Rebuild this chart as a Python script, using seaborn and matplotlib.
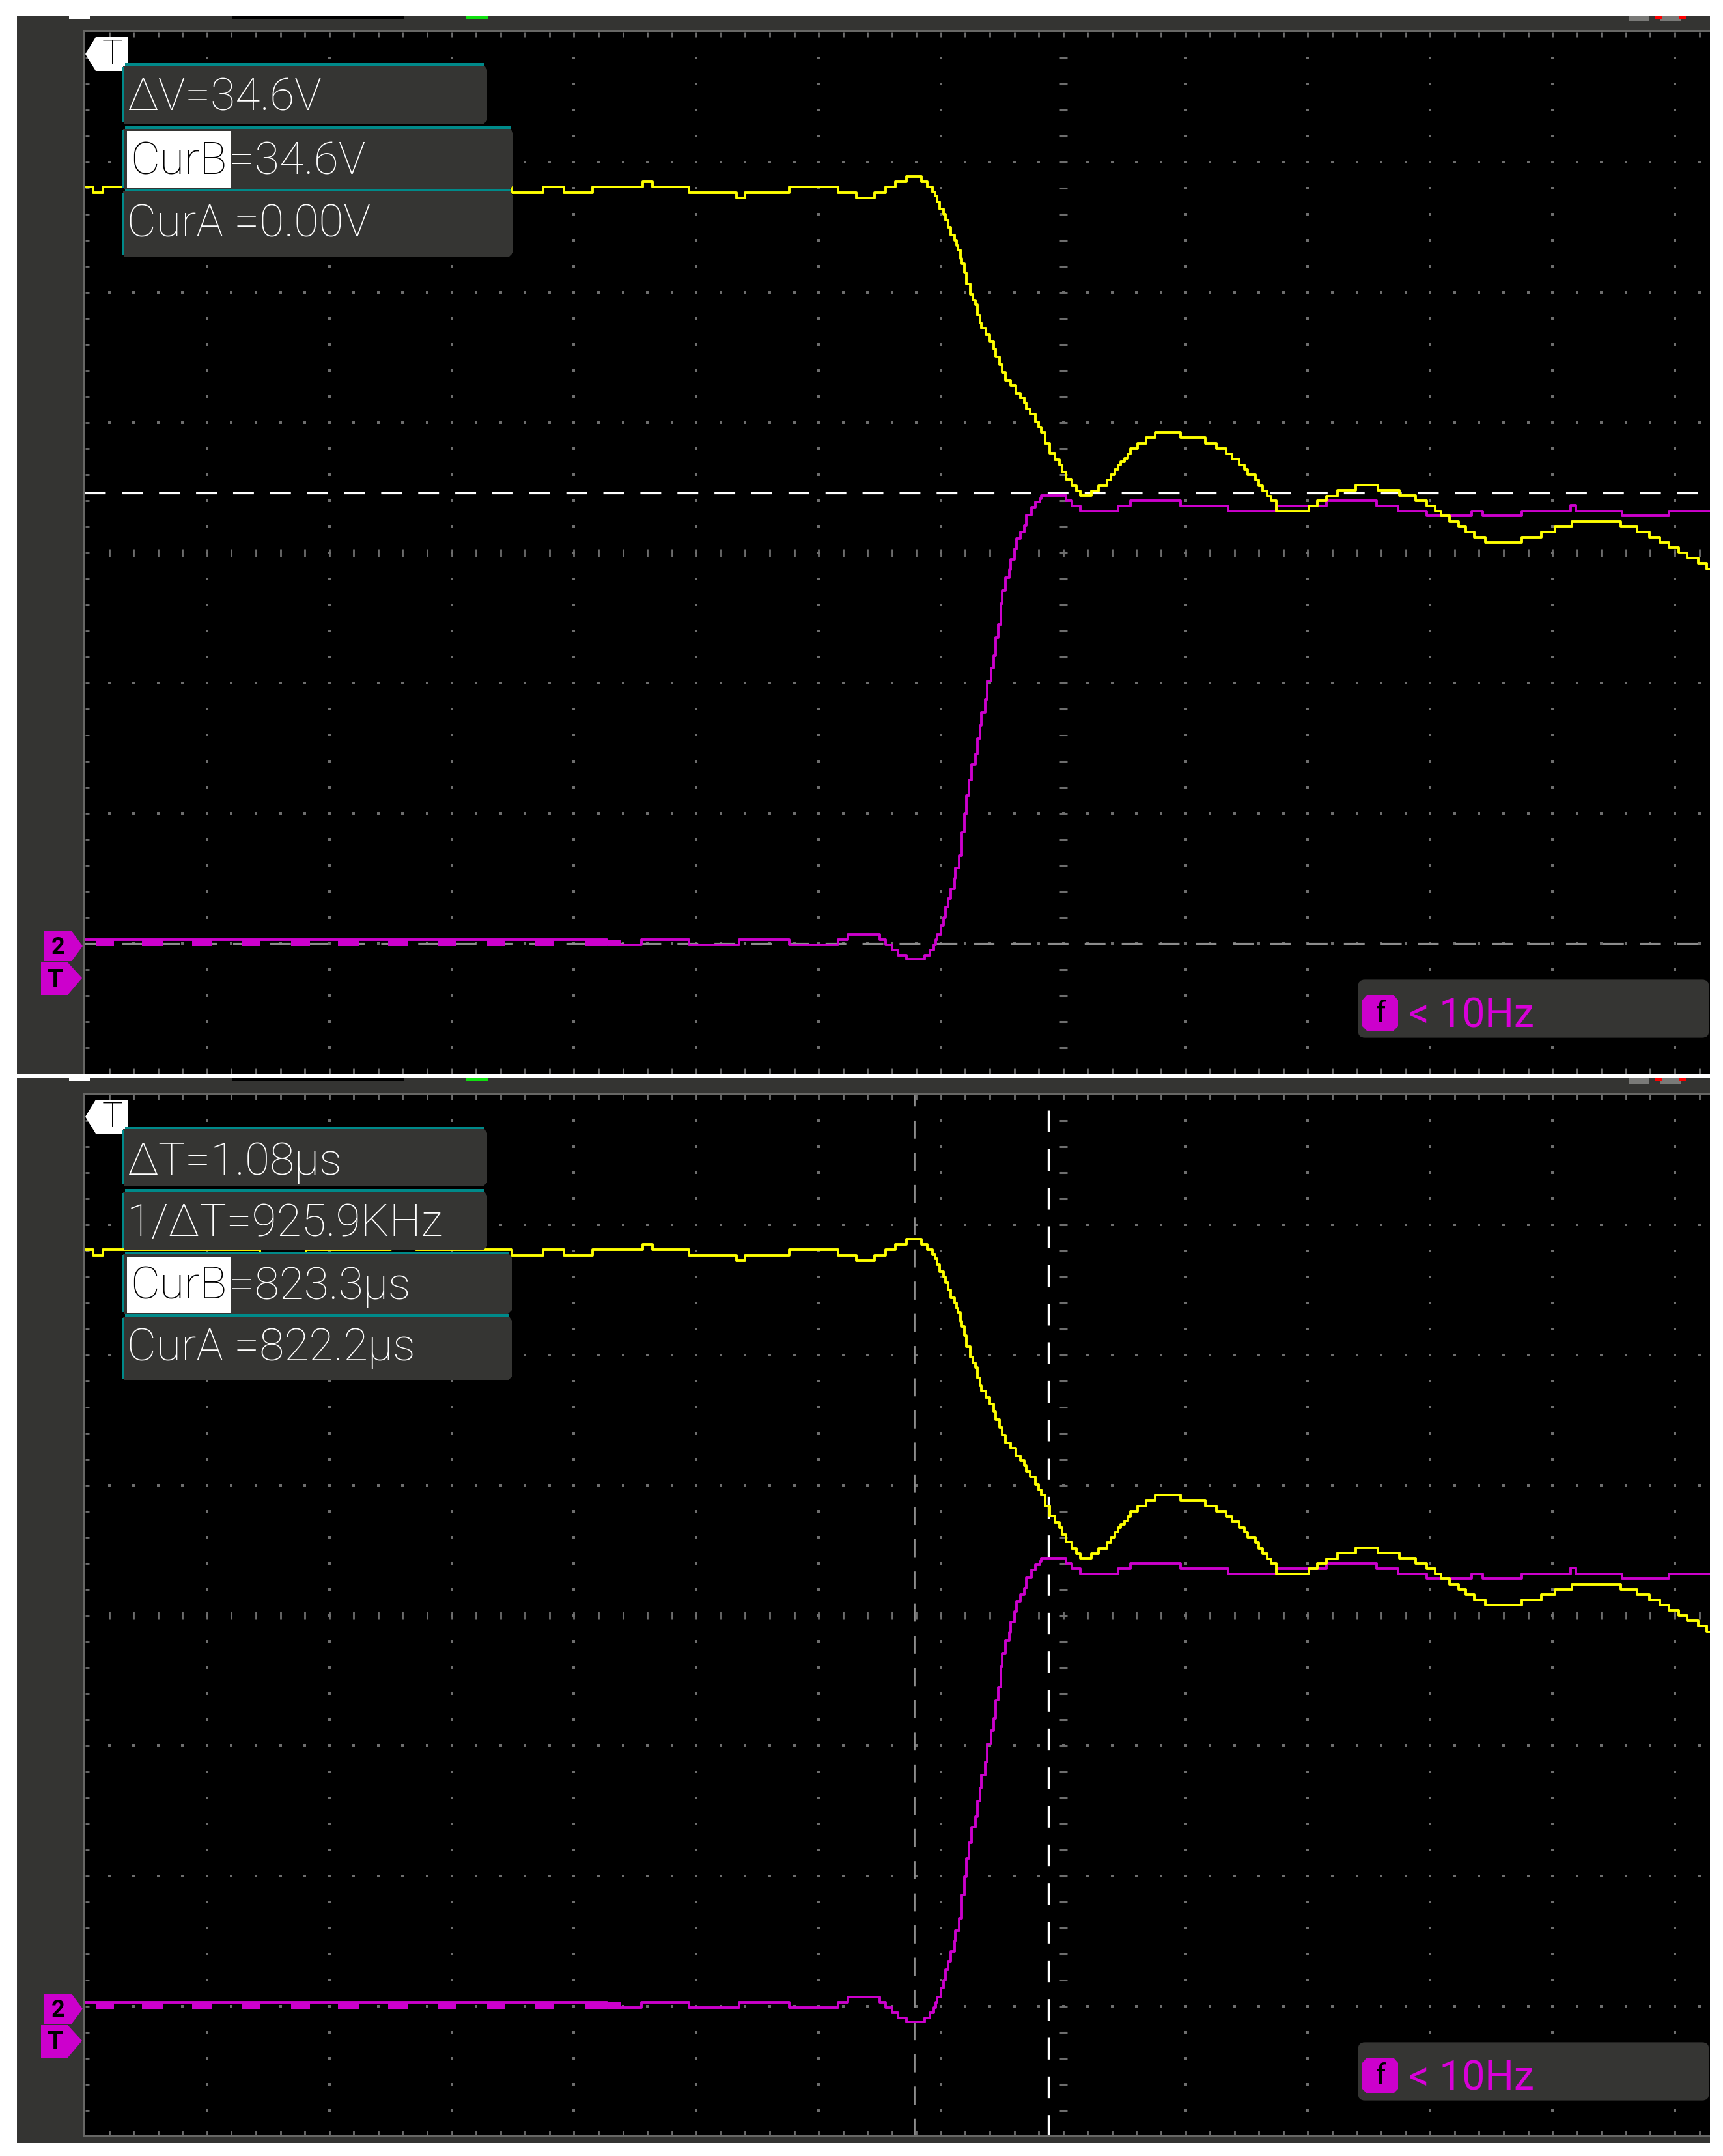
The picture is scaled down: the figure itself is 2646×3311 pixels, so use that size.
import numpy as np
import pandas as pd
import matplotlib
matplotlib.use("Agg")
import matplotlib.pyplot as plt
import seaborn as sns
from matplotlib.patches import Rectangle, Polygon, FancyBboxPatch

# ------------------------------------------------------------------ data
T0 = 823.42          # time at screen centre (us); 1 us/div, 10 V/div

ch1_t = [815.42, 815.49, 815.57, 816.85, 817.23, 817.92, 818.13, 818.91, 819.17, 819.34,
         819.57, 819.98, 820.06, 820.36, 820.75, 820.82, 821.18, 821.58, 821.73, 821.88,
         821.97, 822.05, 822.14, 822.26, 822.31, 822.35, 822.37, 822.39, 822.41, 822.44,
         822.46, 822.48, 822.50, 822.53, 822.55, 822.56, 822.58, 822.59, 822.61, 822.63,
         822.66, 822.68, 822.70, 822.72, 822.74, 822.75, 822.79, 822.82, 822.85, 822.87,
         822.90, 822.92, 822.95, 822.99, 823.03, 823.07, 823.10, 823.12, 823.15, 823.19,
         823.22, 823.24, 823.27, 823.31, 823.35, 823.39, 823.41, 823.44, 823.49, 823.53,
         823.56, 823.65, 823.71, 823.78, 823.81, 823.84, 823.87, 823.89, 823.92, 823.95,
         823.97, 824.03, 824.10, 824.17, 824.38, 824.58, 824.67, 824.75, 824.80, 824.86,
         824.90, 824.93, 824.99, 825.02, 825.05, 825.09, 825.12, 825.16, 825.43, 825.50,
         825.57, 825.66, 825.81, 825.99, 826.17, 826.30, 826.39, 826.46, 826.51, 826.58,
         826.65, 826.71, 826.78, 826.87, 827.17, 827.33, 827.44, 827.58, 827.98, 828.11,
         828.21, 828.30, 828.37, 828.45, 828.52, 828.61, 828.68, 828.72]
ch1_v = [58.1, 57.65, 58.1, 57.65, 58.1, 58.5, 58.1, 57.65, 58.1, 57.65,
         58.1, 58.5, 58.1, 57.65, 57.25, 57.65, 58.1, 57.65, 57.25, 57.65,
         58.1, 58.5, 58.9, 58.5, 58.1, 57.7, 57.4, 56.95, 56.4, 56.0,
         55.55, 55.0, 54.4, 54.0, 53.6, 53.25, 52.6, 52.2, 51.5, 50.65,
         49.85, 49.4, 49.05, 48.25, 47.65, 47.25, 46.75, 46.25, 45.65, 45.05,
         44.45, 43.85, 43.25, 42.85, 42.25, 41.9, 41.5, 41.05, 40.65, 40.05,
         39.65, 39.25, 38.4, 37.65, 37.15, 36.75, 36.2, 35.65, 35.15, 34.75,
         34.4, 34.75, 35.15, 35.6, 36.0, 36.4, 36.75, 37.0, 37.25, 37.6,
         38.0, 38.4, 38.85, 39.25, 38.85, 38.4, 38.0, 37.6, 37.2, 36.75,
         36.4, 36.0, 35.6, 35.15, 34.75, 34.35, 34.0, 33.2, 33.6, 34.0,
         34.35, 34.8, 35.2, 34.8, 34.4, 34.0, 33.6, 33.2, 32.85, 32.4,
         32.0, 31.6, 31.2, 30.8, 31.2, 31.6, 32.0, 32.4, 32.0, 31.6,
         31.2, 30.8, 30.4, 30.0, 29.6, 29.2, 28.75, 28.75]

ch2_t = [815.42, 819.69, 819.97, 820.36, 820.77, 821.18, 821.58, 821.66, 821.92, 821.97,
         822.02, 822.07, 822.14, 822.29, 822.33, 822.36, 822.38, 822.39, 822.42, 822.44,
         822.46, 822.48, 822.50, 822.53, 822.54, 822.57, 822.59, 822.61, 822.63, 822.65,
         822.67, 822.70, 822.72, 822.74, 822.75, 822.78, 822.80, 822.83, 822.85, 822.87,
         822.89, 822.91, 822.92, 822.95, 822.98, 822.99, 823.02, 823.04, 823.07, 823.10,
         823.12, 823.16, 823.19, 823.23, 823.24, 823.44, 823.49, 823.56, 823.87, 823.97,
         824.38, 824.77, 825.16, 825.57, 825.98, 826.16, 826.39, 826.76, 826.85, 827.17,
         827.57, 827.61, 827.99, 828.37, 828.72]
ch2_v = [0.3, -0.1, 0.3, -0.1, 0.3, -0.1, 0.3, 0.7, 0.3, -0.1,
         -0.5, -0.9, -1.2, -0.9, -0.5, -0.1, 0.3, 0.7, 1.4, 2.0,
         2.8, 3.45, 4.2, 5.0, 5.8, 6.75, 8.55, 9.95, 11.35, 12.55,
         13.75, 14.55, 15.75, 16.75, 17.75, 18.75, 20.15, 21.15, 22.1, 23.5,
         24.5, 26.1, 27.1, 28.1, 28.7, 29.5, 30.3, 31.1, 31.6, 32.1,
         32.9, 33.5, 33.9, 34.15, 34.4, 34.0, 33.6, 33.2, 33.6, 34.0,
         33.6, 33.2, 33.6, 34.0, 33.6, 33.2, 32.85, 33.2, 32.85, 33.2,
         33.65, 33.2, 32.85, 33.2, 33.2]

ch2_notch_start = [815.51, 815.89, 816.30, 816.71, 817.11, 817.49, 817.90, 818.31, 818.71, 819.10, 819.51, 819.70]
ch2_notch_end = [815.66, 816.06, 816.46, 816.85, 817.26, 817.66, 818.06, 818.46, 818.86, 819.26, 819.69, 819.80]
notch_top, notch_bottom = 0.3, -0.2

volt_cursors = {"CurA": 0.00, "CurB": 34.6}      # V   (upper screen)
time_cursors = {"CurA": 822.2, "CurB": 823.3}    # us  (lower screen)

top_labels = ["\u0394V=34.6V", "CurB", "=34.6V", "CurA =0.00V"]
bottom_labels = ["\u0394T=1.08\u00b5s", "1/\u0394T=925.9KHz", "CurB", "=823.3\u00b5s", "CurA =822.2\u00b5s"]
filter_label = "< 10Hz"

assert len(ch1_t) == len(ch1_v) and len(ch2_t) == len(ch2_v)

# ------------------------------------------------------------------ style
W, H = 2646, 3312
sns.set_style("dark")
plt.rcParams["font.family"] = ["Roboto", "Liberation Sans", "DejaVu Sans"]

FRAME = "#343432"
BORDER = "#676765"
GRID = "#6e6e6e"
YEL = "#FFFF00"
MAG = "#CC00CC"
TEAL = "#008A8A"
BOX = "#353533"
CUR_GRAY = "#8c8c8c"
LW = 2.8

fig = plt.figure(figsize=(W / 100, H / 100), dpi=100, facecolor="white")


def fx(x):
    return x / W


def fy(y):
    return 1 - y / H


def prect(x0, y0, x1, y1, color, z=-1):
    r = Rectangle((fx(x0), fy(y1)), (x1 - x0) / W, (y1 - y0) / H, transform=fig.transFigure,
                  facecolor=color, edgecolor="none", zorder=z)
    fig.add_artist(r)


def ppoly(pts, color, z=6):
    p = Polygon([(fx(x), fy(y)) for x, y in pts], closed=True, transform=fig.transFigure,
                facecolor=color, edgecolor="none", zorder=z)
    fig.add_artist(p)


def ptext(x, y, s, color, size, ha="left", va="baseline", z=9, weight="light", **kw):
    fig.text(fx(x), fy(y), s, color=color, fontsize=size, ha=ha, va=va, zorder=z,
             fontweight=weight, **kw)


# ------------------------------------------------------------------ frames
prect(26, 26, 2626, 1651, FRAME)
prect(26, 1657, 2626, 3292, FRAME)
prect(127, 47, 2626, 50, BORDER, z=3)
prect(127, 47, 130, 1651, BORDER, z=3)
prect(127, 1679, 2626, 1682, BORDER, z=3)
prect(127, 1679, 130, 3283, BORDER, z=3)
prect(127, 3279, 2626, 3283, BORDER, z=3)

for oy in (0, 1631):
    prect(106, 26 + oy, 138, 30 + oy, "white", z=2)
    prect(356, 26 + oy, 620, 30 + oy, "black", z=2)
    prect(716, 26 + oy, 749, 30 + oy, "#10E010", z=2)
    prect(2501, 26 + oy, 2533, 34 + oy, "#7a7a78", z=2)
    prect(2549, 26 + oy, 2582, 34 + oy, "#7a7a78", z=2)
    prect(2542, 26 + oy, 2553, 30 + oy, "#FF0000", z=2)
    prect(2578, 26 + oy, 2589, 30 + oy, "#FF0000", z=2)

# ------------------------------------------------------------------ axes
XL = (T0 - 8, T0 + (2626 - 1633) / 187.8)
YL = (-10, 70)
ax1 = fig.add_axes([fx(130), fy(1650), (2626 - 130) / W, 1600 / H])
ax2 = fig.add_axes([fx(130), fy(3282), (2626 - 130) / W, 1600 / H])

df1 = pd.DataFrame({"t": ch1_t, "v": ch1_v})
df2 = pd.DataFrame({"t": ch2_t, "v": ch2_v})


def draw_grid(ax):
    xs_major = T0 + np.arange(-7, 6)
    xs_major = xs_major[np.abs(xs_major - T0) > 1e-6]
    ys_minor = np.arange(-8, 69, 2.0)
    X, Y = np.meshgrid(xs_major, ys_minor)
    ax.plot(X.ravel(), Y.ravel(), ls="none", marker="s", ms=2.3, mew=0, color=GRID, zorder=1)
    ys_major = np.array([0, 10, 20, 40, 50, 60])
    xs_minor = T0 + np.round(np.arange(-7.8, 5.25, 0.2), 2)
    X, Y = np.meshgrid(xs_minor, ys_major)
    ax.plot(X.ravel(), Y.ravel(), ls="none", marker="s", ms=2.3, mew=0, color=GRID, zorder=1)
    ax.plot(np.full(len(ys_minor), T0), ys_minor, ls="none", marker="_", ms=9, mew=2.2,
            color=GRID, zorder=1)
    ax.plot(xs_minor, np.full(len(xs_minor), 30.0), ls="none", marker="|", ms=8, mew=2.0,
            color=GRID, zorder=1)
    ax.plot(xs_minor, np.full(len(xs_minor), 70 - 0.2), ls="none", marker="|", ms=6, mew=2.0,
            color=GRID, zorder=1)
    ax.plot(xs_minor, np.full(len(xs_minor), -10 + 0.22), ls="none", marker="|", ms=6.5, mew=2.0,
            color=GRID, zorder=1)
    ax.plot(np.full(len(ys_minor), T0 - 8 + 0.02), ys_minor, ls="none", marker="_", ms=5,
            mew=2.0, color=GRID, zorder=1)


for ax in (ax1, ax2):
    ax.set_facecolor("black")
    draw_grid(ax)
    ax.bar(ch2_notch_start, notch_top - notch_bottom, bottom=notch_bottom,
           width=np.subtract(ch2_notch_end, ch2_notch_start), align="edge",
           color=MAG, linewidth=0, zorder=4)
    sns.lineplot(data=df2, x="t", y="v", ax=ax, color=MAG, linewidth=LW, drawstyle="steps-post",
                 estimator=None, sort=False, legend=False, zorder=5)
    sns.lineplot(data=df1, x="t", y="v", ax=ax, color=YEL, linewidth=LW, drawstyle="steps-post",
                 estimator=None, sort=False, legend=False, zorder=6)
    ax.set_xlim(*XL)
    ax.set_ylim(*YL)
    ax.set_xticks([])
    ax.set_yticks([])
    ax.set_xlabel("")
    ax.set_ylabel("")
    for s in ax.spines.values():
        s.set_visible(False)

DASH = (10.0, 7.8)
ax1.axhline(volt_cursors["CurA"], color=CUR_GRAY, lw=2.3, dashes=DASH, zorder=3)
ax1.axhline(volt_cursors["CurB"], color="white", lw=2.3, dashes=DASH, zorder=3)
ax2.axvline(time_cursors["CurA"], color=CUR_GRAY, lw=2.0, dashes=DASH, zorder=3)
ax2.axvline(time_cursors["CurB"], color="white", lw=2.4, dashes=DASH, zorder=3)


# ------------------------------------------------------------------ overlays
def info_box(x0, x1, y_teal, y1):
    ch = 6
    ppoly([(x0, y_teal + 4), (x1 - 2, y_teal + 4), (x1 + 2, y_teal + 10), (x1 + 2, y1 - ch),
           (x1 - 4, y1), (x0 + 2, y1)], BOX, z=6)
    prect(x0 + 3, y_teal, x1 - 2, y_teal + 4, TEAL, z=7)
    prect(x0 - 2, y_teal + 6, x0 + 2, y1 - 3, TEAL, z=7)


FS = 50
for oy in (0, 1632):
    # trigger marker (top left)
    ppoly([(131, 84 + oy), (147, 58 + oy), (196, 58 + oy), (196, 110 + oy), (147, 110 + oy)],
          "white", z=6)
    ptext(172, 84 + oy, "T", "black", 38, ha="center", va="center")
    # channel-2 / trigger-level markers on sidebar
    ppoly([(68, 1431 + oy), (110, 1431 + oy), (127, 1454 + oy), (110, 1477 + oy), (68, 1477 + oy)],
          MAG, z=6)
    ptext(89, 1455 + oy, "2", "black", 26, ha="center", va="center", weight="bold")
    ppoly([(63, 1479 + oy), (104, 1479 + oy), (126, 1503 + oy), (104, 1529 + oy), (63, 1529 + oy)],
          MAG, z=6)
    ptext(84, 1505 + oy, "T", "black", 28, ha="center", va="center", weight="bold")
    # filter box
    fb = FancyBboxPatch((fx(2092), fy(1588 + oy)), fx(2618) - fx(2092), (1588 - 1512) / H,
                        boxstyle="round,pad=0.0025,rounding_size=0.004", transform=fig.transFigure,
                        facecolor=BOX, edgecolor="none", zorder=6, mutation_aspect=W / H)
    fig.add_artist(fb)
    ppoly([(2099, 1529 + oy), (2140, 1529 + oy), (2147, 1537 + oy), (2147, 1577 + oy),
           (2140, 1584 + oy), (2099, 1584 + oy), (2092, 1577 + oy), (2092, 1537 + oy)], MAG, z=7)
    ptext(2120, 1557 + oy, "f", "black", 32, ha="center", va="center", weight="normal")
    ptext(2163, 1578 + oy, filter_label, "#D800D8", 45, weight="normal")

# upper screen readouts
info_box(189, 746, 98, 192)
info_box(189, 786, 195, 292)
info_box(189, 786, 291, 395)
prect(195, 202, 355, 290, "white", z=8)
ptext(195, 170, top_labels[0], "white", FS)
ptext(200, 267, top_labels[1], "black", FS)
ptext(352, 267, top_labels[2], "white", FS)
ptext(195, 363, top_labels[3], "white", FS)

# lower screen readouts
info_box(189, 746, 1731, 1823)
info_box(189, 746, 1827, 1921)
info_box(189, 784, 1923, 2019)
info_box(189, 784, 2019, 2121)
prect(195, 1931, 355, 2017, "white", z=8)
ptext(195, 1804, bottom_labels[0], "white", FS)
ptext(195, 1898, bottom_labels[1], "white", FS)
ptext(200, 1995, bottom_labels[2], "black", FS)
ptext(352, 1995, bottom_labels[3], "white", FS)
ptext(195, 2089, bottom_labels[4], "white", FS)

fig.savefig("out.png", dpi=100, facecolor="white")
